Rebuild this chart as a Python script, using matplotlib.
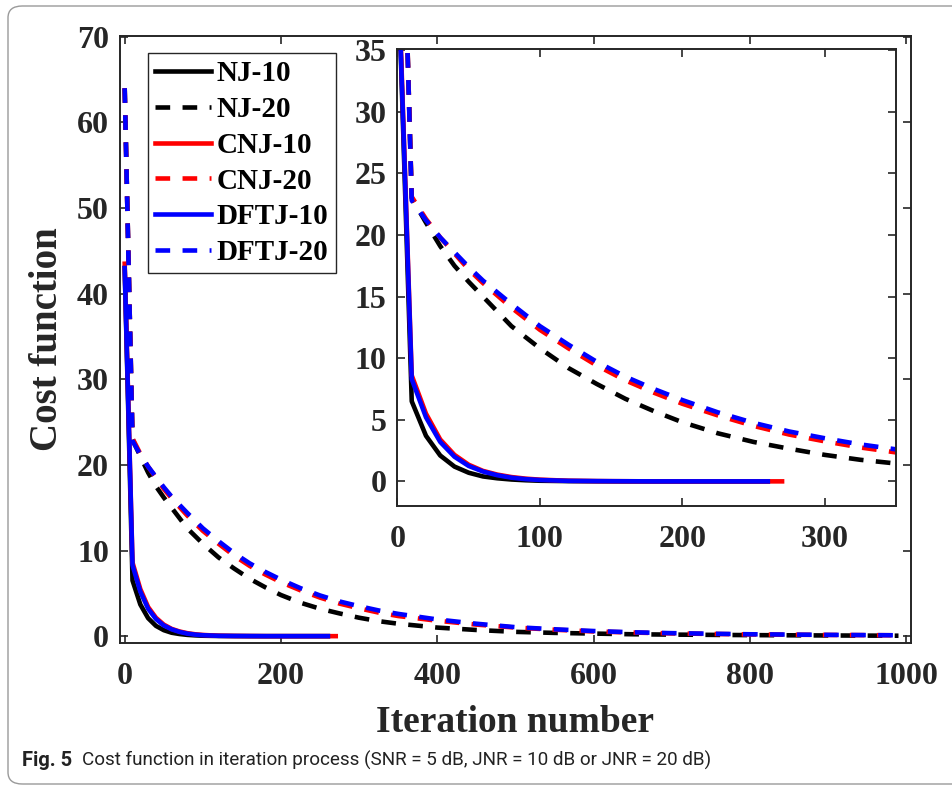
import matplotlib
matplotlib.use('Agg')
import matplotlib.pyplot as plt
from matplotlib.patches import FancyBboxPatch

# iteration grid for the 10 dB runs (CNJ runs 10 more)
it_solid = [0, 10, 20, 30, 40, 50, 60, 70, 80, 90, 100, 120, 140, 160, 180, 200, 220, 240, 260]
it_cnj10 = [0, 10, 20, 30, 40, 50, 60, 70, 80, 90, 100, 120, 140, 160, 180, 200, 220, 240, 260, 270]
nj10 = [43.0, 6.5, 3.7, 2.1, 1.2, 0.7, 0.4, 0.25, 0.15, 0.09, 0.05, 0.02, 0.01, 0.0, 0.0, 0.0, 0.0, 0.0, 0.0]
cnj10 = [43.5, 8.6, 5.5, 3.4, 2.15, 1.35, 0.85, 0.55, 0.35, 0.22, 0.14, 0.05, 0.02, 0.01, 0.0, 0.0, 0.0, 0.0, 0.0, 0.0]
dftj10 = [43.0, 8.3, 5.2, 3.2, 2.0, 1.25, 0.8, 0.5, 0.3, 0.18, 0.11, 0.04, 0.02, 0.01, 0.0, 0.0, 0.0, 0.0, 0.0]

# iteration grid for the 20 dB runs
it_dash = [0, 10, 20, 30, 40, 50, 60, 80, 100, 120, 140, 160, 180, 200, 225, 250, 275, 300,
           325, 350, 400, 450, 500, 550, 600, 650, 700, 800, 900, 990]
nj20 = [64.0, 23.0, 21.0, 19.1, 17.5, 16.2, 15.0, 12.6, 10.8, 9.2, 7.9, 6.7, 5.7, 4.8, 3.9, 3.2,
        2.65, 2.15, 1.75, 1.45, 1.0, 0.72, 0.5, 0.38, 0.3, 0.22, 0.18, 0.12, 0.08, 0.05]
cnj20 = [64.0, 23.1, 21.3, 19.8, 18.5, 17.2, 16.1, 14.1, 12.3, 10.8, 9.4, 8.2, 7.2, 6.3, 5.35, 4.5,
         3.8, 3.25, 2.75, 2.35, 1.8, 1.35, 1.0, 0.75, 0.55, 0.42, 0.32, 0.2, 0.14, 0.1]
dftj20 = [64.0, 22.8, 21.2, 19.8, 18.6, 17.4, 16.3, 14.4, 12.6, 11.1, 9.7, 8.5, 7.5, 6.6, 5.6, 4.75,
          4.05, 3.5, 3.0, 2.6, 1.95, 1.45, 1.05, 0.8, 0.6, 0.45, 0.35, 0.22, 0.15, 0.1]

series = [
    ('NJ-10', it_solid, nj10, 'k', '-'),
    ('NJ-20', it_dash, nj20, 'k', '--'),
    ('CNJ-10', it_cnj10, cnj10, '#ff0000', '-'),
    ('CNJ-20', it_dash, cnj20, '#ff0000', '--'),
    ('DFTJ-10', it_solid, dftj10, '#0000ff', '-'),
    ('DFTJ-20', it_dash, dftj20, '#0000ff', '--'),
]

W, H = 953, 786
txt = '#262626'
serif = 'Liberation Serif'

fig = plt.figure(figsize=(W / 100, H / 100), dpi=100)

def draw(ax):
    lines = []
    for label, x, y, c, ls in series:
        l, = ax.plot(x, y, color=c, lw=3.3, label=label, solid_joinstyle='round')
        if ls == '--':
            l.set_dashes((3.2, 2.7))
        lines.append(l)
    for s in ax.spines.values():
        s.set_color(txt)
        s.set_linewidth(1.4)
    ax.tick_params(direction='in', top=True, right=True, length=6, width=1.2,
                   colors=txt, labelsize=23)
    ax.tick_params(axis='x', pad=14)
    ax.tick_params(axis='y', pad=8)
    for t in ax.get_xticklabels() + ax.get_yticklabels():
        t.set_fontfamily(serif)
        t.set_fontweight('bold')
    return lines

# main axes
ax = fig.add_axes([120 / W, 1 - 643 / H, 791 / W, 607 / H])
ax.set_xlim(-6, 1006)
ax.set_ylim(-0.8, 70.1)
ax.set_xticks([0, 200, 400, 600, 800, 1000])
ax.set_yticks([0, 10, 20, 30, 40, 50, 60, 70])
lines = draw(ax)
ax.set_xlabel('Iteration number', fontfamily=serif, fontweight='bold', fontsize=27,
              color=txt, va='center')
ax.xaxis.set_label_coords(0.5, (643 - 722) / 607)
ax.set_ylabel('Cost function', fontfamily=serif, fontweight='bold', fontsize=28,
              color=txt, va='center')
ax.yaxis.set_label_coords((48 - 120) / 791, 0.5)

leg = fig.legend(handles=lines, loc='upper left',
                 bbox_to_anchor=(148 / W, 1 - 53 / H), bbox_transform=fig.transFigure,
                 prop={'family': serif, 'weight': 'bold', 'size': 21},
                 frameon=True, fancybox=False, framealpha=1, edgecolor=txt,
                 handlelength=1.9, handletextpad=0.2, labelspacing=0.3,
                 borderpad=0.25, borderaxespad=0)
leg.get_frame().set_linewidth(1.0)

# inset
axi = fig.add_axes([397.5 / W, 1 - 506 / H, 498.5 / W, 457 / H])
axi.set_xlim(0, 350)
axi.set_ylim(-2, 35.1)
axi.set_xticks([0, 100, 200, 300])
axi.set_yticks([0, 5, 10, 15, 20, 25, 30, 35])
draw(axi)

# caption
fig.text(22 / W, 1 - 760 / H, 'Fig. 5', fontfamily='Roboto', fontweight='bold',
         fontsize=14.5, color='#222222', va='center')
fig.text(82 / W, 1 - 760 / H,
         'Cost function in iteration process (SNR = 5 dB, JNR = 10 dB or JNR = 20 dB)',
         fontfamily='Roboto', fontsize=13.6, color='#222222', va='center')

# rounded frame around the figure
frame = FancyBboxPatch((8 / W, 2 / H), 1.2, 1 - 8 / H,
                       boxstyle='round,pad=0,rounding_size=0.015',
                       transform=fig.transFigure, fill=False,
                       edgecolor='#9a9a9a', linewidth=1.0, clip_on=False)
fig.patches.append(frame)

fig.savefig('out.png', dpi=100)
